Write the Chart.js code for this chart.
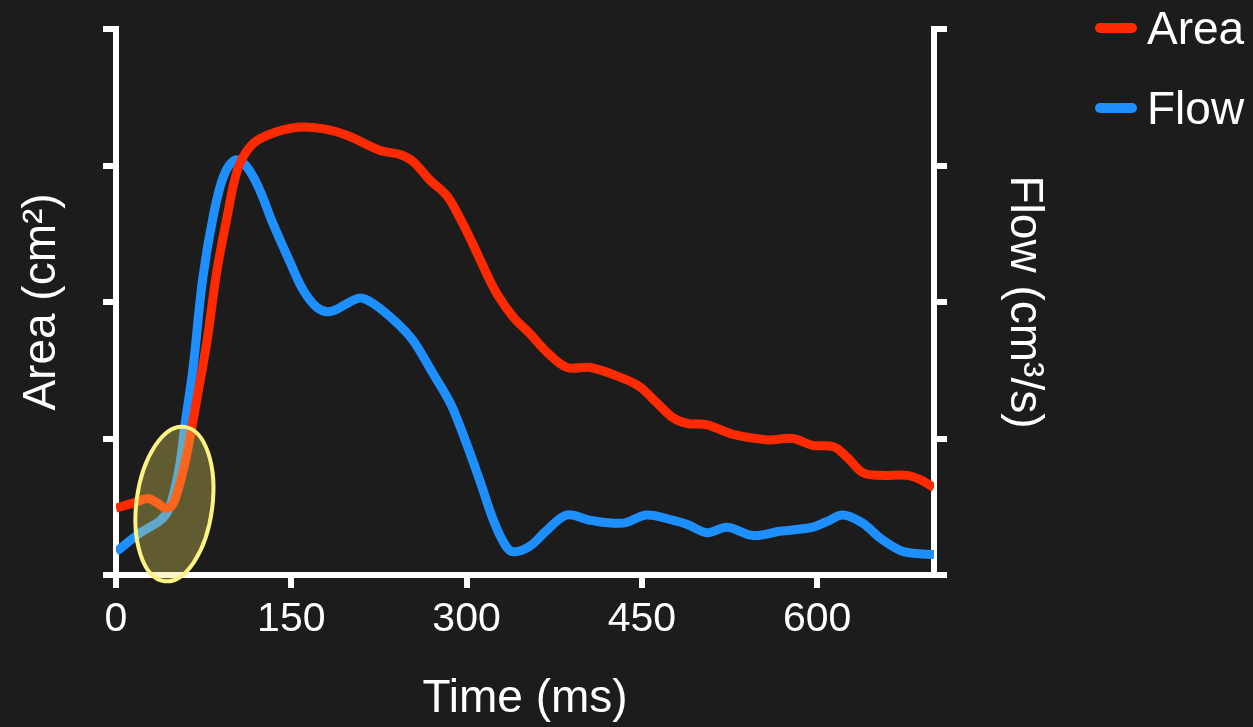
<!DOCTYPE html>
<html>
<head>
<meta charset="utf-8">
<script src="https://cdn.jsdelivr.net/npm/chart.js@4.4.1/dist/chart.umd.min.js"></script>
<style>
  html, body { margin: 0; padding: 0; background: #1c1c1c; }
  canvas { display: block; }
</style>
</head>
<body>
<canvas id="c" width="1253" height="727"></canvas>
<script>
// ---- data ----
const seriesNames = ['Area', 'Flow'];
const xTicks = [0, 150, 300, 450, 600];
const yTicks = [0, 1, 2, 3, 4];

const areaTime = [0, 16, 27, 35, 42, 48, 53, 59, 63, 69, 78, 86, 95, 104, 115, 129, 155, 177, 198, 226, 243, 254, 269, 283, 294, 305, 317, 326, 340, 354, 369, 386, 406, 431, 448, 463, 477, 489, 506, 528, 557, 579, 596, 614, 626, 639, 654, 677, 688, 700];
const areaValues = [0.49, 0.53, 0.56, 0.53, 0.49, 0.51, 0.62, 0.82, 0.99, 1.28, 1.72, 2.21, 2.62, 2.97, 3.14, 3.22, 3.28, 3.27, 3.22, 3.11, 3.08, 3.03, 2.89, 2.78, 2.62, 2.43, 2.21, 2.06, 1.89, 1.77, 1.63, 1.52, 1.52, 1.45, 1.38, 1.26, 1.15, 1.11, 1.10, 1.03, 0.99, 1.00, 0.95, 0.94, 0.86, 0.75, 0.73, 0.73, 0.70, 0.64];

const flowTime = [0, 21, 38, 45, 50, 55, 59, 66, 74, 83, 92, 102, 112, 123, 134, 149, 160, 172, 183, 198, 209, 220, 240, 254, 271, 286, 297, 311, 323, 333, 340, 354, 369, 386, 406, 434, 454, 477, 489, 506, 523, 545, 568, 596, 608, 622, 639, 654, 671, 682, 700];
const flowValues = [0.17, 0.31, 0.40, 0.48, 0.62, 0.83, 1.10, 1.52, 2.16, 2.62, 2.92, 3.04, 2.99, 2.82, 2.58, 2.29, 2.09, 1.96, 1.93, 1.99, 2.03, 1.99, 1.85, 1.72, 1.48, 1.26, 1.03, 0.70, 0.40, 0.22, 0.17, 0.21, 0.33, 0.44, 0.40, 0.38, 0.44, 0.40, 0.37, 0.31, 0.35, 0.29, 0.32, 0.35, 0.39, 0.44, 0.38, 0.27, 0.18, 0.16, 0.15];

// highlighted region (data coordinates)
const highlight = { t: 50, v: 0.52, dt: 32.5, dv: 0.57, rot: 0.13 };

const WHITE = '#ffffff';
const RED = '#ff2a00';
const BLUE = '#1e8fff';
const FONT = '"Liberation Sans", Arial, Helvetica, sans-serif';

const bgPlugin = {
  id: 'bg',
  beforeDraw(chart) {
    const ctx = chart.ctx;
    ctx.save();
    ctx.fillStyle = '#1c1c1c';
    ctx.fillRect(0, 0, chart.width, chart.height);
    ctx.restore();
  }
};

const ellipsePlugin = {
  id: 'ellipse',
  afterDatasetsDraw(chart) {
    const xs = chart.scales.x, ys = chart.scales.y;
    const cx = xs.getPixelForValue(highlight.t);
    const cy = ys.getPixelForValue(highlight.v);
    const rx = xs.getPixelForValue(highlight.t + highlight.dt) - cx;
    const ry = cy - ys.getPixelForValue(highlight.v + highlight.dv);
    const ctx = chart.ctx;
    ctx.save();
    ctx.beginPath();
    ctx.ellipse(cx, cy, rx, ry, highlight.rot, 0, Math.PI * 2);
    ctx.fillStyle = 'rgba(240,225,90,0.32)';
    ctx.fill();
    ctx.lineWidth = 4;
    ctx.strokeStyle = '#fbf383';
    ctx.stroke();
    ctx.restore();
  }
};

const legendPlugin = {
  id: 'customLegend',
  afterDraw(chart) {
    const ctx = chart.ctx;
    ctx.save();
    chart.data.datasets.forEach((ds, i) => {
      const y = 28 + i * 80;
      ctx.beginPath();
      ctx.lineCap = 'round';
      ctx.lineWidth = 10;
      ctx.strokeStyle = ds.borderColor;
      ctx.moveTo(1100, y);
      ctx.lineTo(1132, y);
      ctx.stroke();
      ctx.fillStyle = WHITE;
      ctx.font = '46px ' + FONT;
      ctx.textBaseline = 'alphabetic';
      ctx.textAlign = 'left';
      ctx.fillText(ds.label, 1147, y + 16);
    });
    ctx.restore();
  }
};

const axisGrid = {
  drawOnChartArea: false,
  color: WHITE,
  lineWidth: 6,
  tickLength: 13,
  tickColor: WHITE,
  tickWidth: 6
};

new Chart(document.getElementById('c'), {
  type: 'line',
  data: {
    datasets: [
      {
        label: seriesNames[0],
        data: areaTime.map((t, i) => ({ x: t, y: areaValues[i] })),
        borderColor: RED,
        borderWidth: 9,
        pointRadius: 0,
        tension: 0.35,
        borderCapStyle: 'butt',
        borderJoinStyle: 'round',
        yAxisID: 'y'
      },
      {
        label: seriesNames[1],
        data: flowTime.map((t, i) => ({ x: t, y: flowValues[i] })),
        borderColor: BLUE,
        borderWidth: 9,
        pointRadius: 0,
        tension: 0.35,
        borderCapStyle: 'butt',
        borderJoinStyle: 'round',
        yAxisID: 'y1'
      }
    ]
  },
  options: {
    responsive: false,
    animation: false,
    devicePixelRatio: 1,
    layout: { padding: { left: 0, right: 202, top: 29, bottom: 0 } },
    plugins: {
      legend: { display: false },
      tooltip: { enabled: false }
    },
    scales: {
      x: {
        type: 'linear',
        min: 0,
        max: 700,
        afterBuildTicks(scale) { scale.ticks = xTicks.map(v => ({ value: v })); },
        afterFit(scale) { scale.height = 152; },
        grid: axisGrid,
        border: { display: true, color: WHITE, width: 6 },
        ticks: {
          color: WHITE,
          font: { family: FONT, size: 41 },
          padding: 7,
          maxRotation: 0,
          callback: v => String(v)
        },
        title: {
          display: true,
          text: 'Time (ms)',
          color: WHITE,
          font: { family: FONT, size: 46 },
          padding: { top: 0, bottom: 0 }
        }
      },
      y: {
        type: 'linear',
        position: 'left',
        min: 0,
        max: 4,
        afterBuildTicks(scale) { scale.ticks = yTicks.map(v => ({ value: v })); },
        afterFit(scale) { scale.width = 116; },
        grid: axisGrid,
        border: { display: true, color: WHITE, width: 6 },
        ticks: { display: false },
        title: {
          display: true,
          text: 'Area (cm²)',
          color: WHITE,
          font: { family: FONT, size: 46 },
          padding: { top: 15, bottom: 0 }
        }
      },
      y1: {
        type: 'linear',
        position: 'right',
        min: 0,
        max: 4,
        afterBuildTicks(scale) { scale.ticks = yTicks.map(v => ({ value: v })); },
        afterFit(scale) { scale.width = 117; },
        grid: axisGrid,
        border: { display: true, color: WHITE, width: 6 },
        ticks: { display: false },
        title: {
          display: true,
          text: 'Flow (cm³/s)',
          color: WHITE,
          font: { family: FONT, size: 46 },
          padding: { top: 0, bottom: 0 }
        }
      }
    }
  },
  plugins: [bgPlugin, ellipsePlugin, legendPlugin]
});
</script>
</body>
</html>
